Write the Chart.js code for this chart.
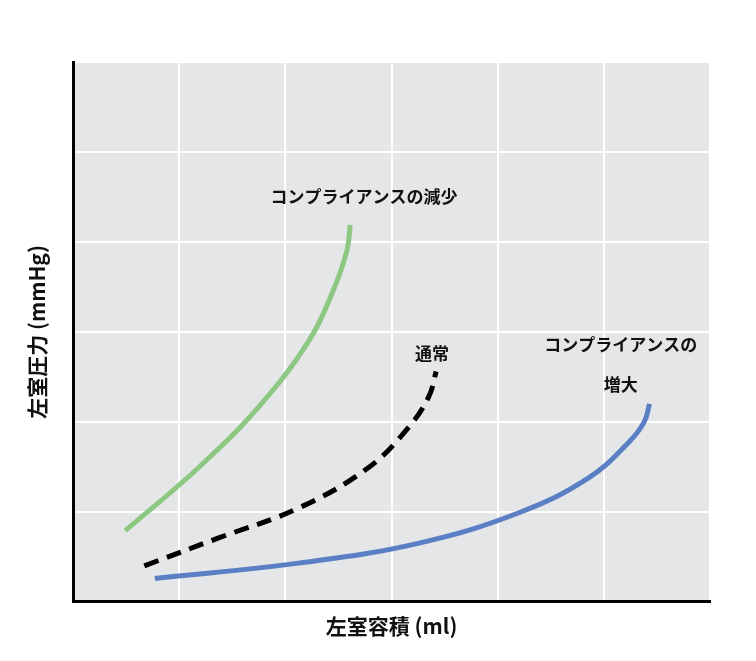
<!DOCTYPE html>
<html><head><meta charset="utf-8">
<script src="https://cdn.jsdelivr.net/npm/chart.js@4"></script>
<style>body{margin:0;background:#fff}#wrap{width:756px;height:661px}</style>
</head><body><div id="wrap"><canvas id="c"></canvas></div>
<script>
const decreased = [[0.49,0.79],[1.18,1.49],[1.75,2.17],[2.22,2.9],[2.45,3.46],[2.58,3.91],[2.61,4.19]]
const normal = [[0.67,0.40],[1.37,0.71],[2.12,1.04],[2.78,1.49],[3.16,1.94],[3.35,2.28],[3.42,2.56]]
const increased = [[0.77,0.26],[2.12,0.43],[3.25,0.65],[4.2,0.99],[4.86,1.38],[5.24,1.78],[5.38,2.0],[5.43,2.2]]
const labels = [
  {text: 'コンプライアンスの減少', x: 2.74, y: 4.5},
  {text: '通常', x: 3.38, y: 2.76},
  {text: 'コンプライアンスの', x: 5.16, y: 2.86},
  {text: '増大', x: 5.16, y: 2.41}
]
const pts = a => a.map(p => ({x: p[0], y: p[1]}))

const bgPlugin = {
  id: 'bg',
  beforeDraw(chart) {
    const {ctx, chartArea: a} = chart
    ctx.save(); ctx.fillStyle = '#e5e6e8'
    ctx.fillRect(a.left, a.top, a.right - a.left, a.bottom - a.top)
    ctx.restore()
  },
  afterDatasetsDraw(chart) {
    const {ctx, scales: {x, y}} = chart
    ctx.save()
    ctx.font = 'bold 17px "Noto Sans CJK JP"'
    ctx.fillStyle = '#111'; ctx.textAlign = 'center'; ctx.textBaseline = 'middle'
    labels.forEach(l => ctx.fillText(l.text, x.getPixelForValue(l.x), y.getPixelForValue(l.y)))
    ctx.restore()
  }
}

new Chart(document.getElementById('c'), {
  type: 'line',
  data: {
    datasets: [
      {data: pts(decreased), borderColor: '#8cc882', borderWidth: 5},
      {data: pts(normal), borderColor: '#000', borderWidth: 5, borderDash: [15, 9]},
      {data: pts(increased), borderColor: '#5b7fc4', borderWidth: 5}
    ]
  },
  options: {
    responsive: true, maintainAspectRatio: false, animation: false,
    layout: {padding: {top: 62, right: 46, left: 20, bottom: 18}},
    elements: {point: {radius: 0}, line: {tension: 0.4, capBezierPoints: true}},
    plugins: {legend: {display: false}, tooltip: {enabled: false}},
    scales: {
      x: {type: 'linear', min: 0, max: 6,
        ticks: {display: false, stepSize: 1},
        grid: {color: '#fff', lineWidth: 2, drawTicks: false},
        border: {color: '#000', width: 3},
        title: {display: true, text: '左室容積 (ml)', color: '#111', font: {family: 'Noto Sans CJK JP', size: 21, weight: 'bold'}, padding: {top: 12}}},
      y: {type: 'linear', min: 0, max: 6,
        ticks: {display: false, stepSize: 1},
        grid: {color: '#fff', lineWidth: 2, drawTicks: false},
        border: {color: '#000', width: 3},
        title: {display: true, text: '左室圧力 (mmHg)', color: '#111', font: {family: 'Noto Sans CJK JP', size: 21, weight: 'bold'}, padding: {bottom: 24}}}
    }
  },
  plugins: [bgPlugin]
})
</script></body></html>
